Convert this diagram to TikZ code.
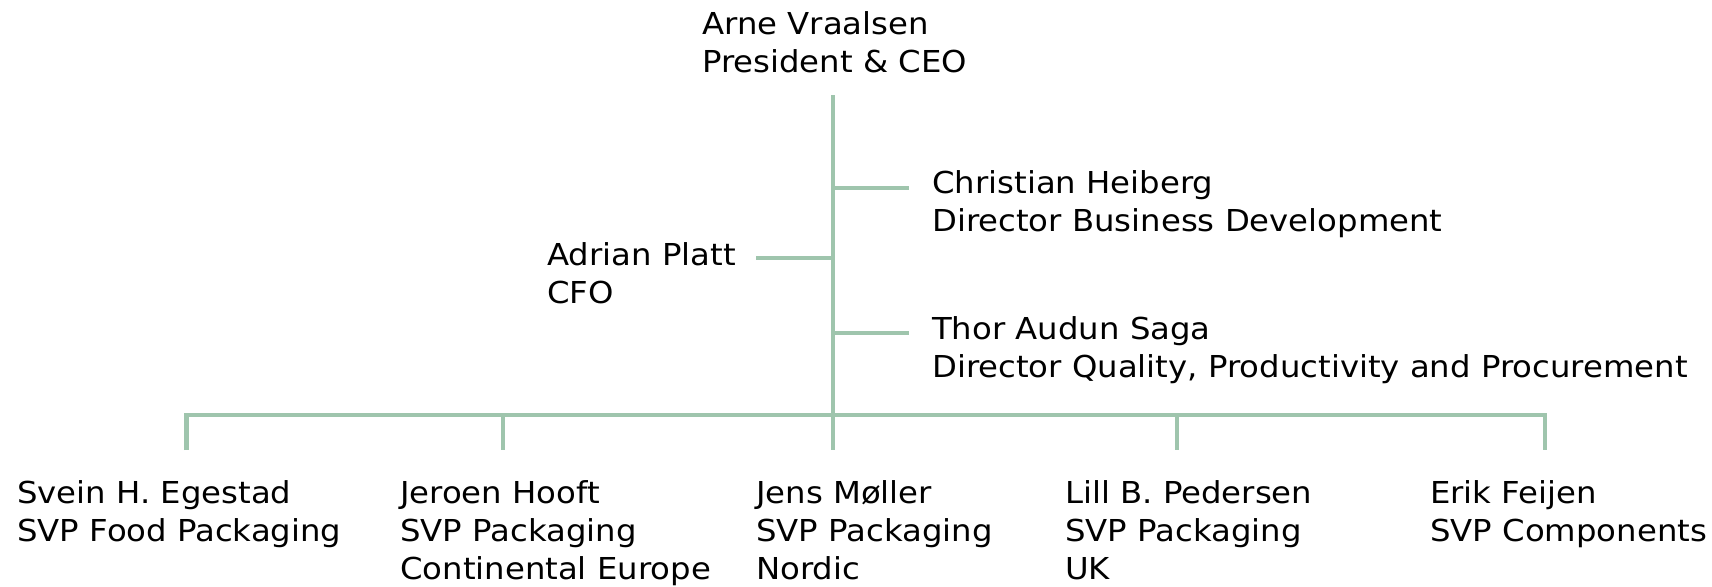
\documentclass[tikz,border=0pt]{standalone}
\usepackage{fontspec}
\setmainfont[FakeStretch=1.07]{DejaVu Sans}
\definecolor{lnk}{HTML}{9FC5AD}
\begin{document}
\begin{tikzpicture}[x=1pt,y=-1pt,
  lbl/.style={anchor=base west,inner sep=0pt,font=\fontsize{30.2}{38}\selectfont},
  conn/.style={draw=lnk,line width=4.6pt,line join=miter}]
\useasboundingbox (0,0) rectangle (1712,586);
\node[lbl] (arne) at (702,35) {\begin{tabular}[t]{@{}l@{}}Arne Vraalsen\\President \& CEO\end{tabular}};
\node[lbl] (christian) at (932,193) {\begin{tabular}[t]{@{}l@{}}Christian Heiberg\\Director Business Development\end{tabular}};
\node[lbl] (adrian) at (547,265) {\begin{tabular}[t]{@{}l@{}}Adrian Platt\\CFO\end{tabular}};
\node[lbl] (thor) at (932,339) {\begin{tabular}[t]{@{}l@{}}Thor Audun Saga\\Director Quality, Productivity and Procurement\end{tabular}};
\node[lbl] (svein) at (17,503) {\begin{tabular}[t]{@{}l@{}}Svein H. Egestad\\SVP Food Packaging\end{tabular}};
\node[lbl] (jeroen) at (400,503) {\begin{tabular}[t]{@{}l@{}}Jeroen Hooft\\SVP Packaging\\Continental Europe\end{tabular}};
\node[lbl] (jens) at (756,503) {\begin{tabular}[t]{@{}l@{}}Jens Møller\\SVP Packaging\\Nordic\end{tabular}};
\node[lbl] (lill) at (1065,503) {\begin{tabular}[t]{@{}l@{}}Lill B. Pedersen\\SVP Packaging\\UK\end{tabular}};
\node[lbl] (erik) at (1430,503) {\begin{tabular}[t]{@{}l@{}}Erik Feijen\\SVP Components\end{tabular}};
% junction coordinates
\coordinate (ttop) at (833,95);
\coordinate (tbot) at (833,450);
\coordinate (jc) at (833,188);
\coordinate (ec) at (909,188);
\coordinate (ja) at (833,258);
\coordinate (ea) at (756,258);
\coordinate (jt) at (833,333);
\coordinate (et) at (909,333);
\coordinate (b1) at (186.5,415);
\coordinate (b2) at (503,415);
\coordinate (b4) at (1177,415);
\coordinate (b5) at (1545,415);
\coordinate (d1) at (186.5,450);
\coordinate (d2) at (503,450);
\coordinate (d4) at (1177,450);
\coordinate (d5) at (1545,450);
\draw[conn] (ttop) -- (tbot);
\draw[conn] (jc) -- (ec);
\draw[conn] (ja) -- (ea);
\draw[conn] (jt) -- (et);
\draw[conn] (d1) -- (b1) -- (b5) -- (d5);
\draw[conn] (b2) -- (d2);
\draw[conn] (b4) -- (d4);
\end{tikzpicture}
\end{document}
